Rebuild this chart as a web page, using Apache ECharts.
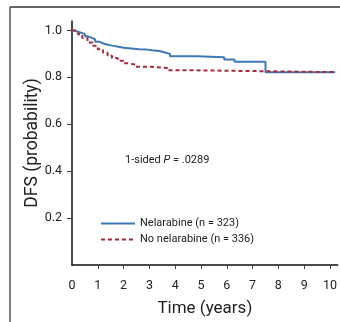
<!DOCTYPE html>
<html>
<head>
<meta charset="utf-8">
<script src="https://cdn.jsdelivr.net/npm/echarts@6/dist/echarts.min.js"></script>
<style>
  html, body { margin: 0; padding: 0; background: #fff; }
  #chart { width: 340px; height: 322px; }
</style>
</head>
<body>
<div id="chart"></div>
<script>
// Kaplan-Meier estimates: [years, DFS]
var nelarabine = [
  [0, 1.0], [0.1, 0.995], [0.2, 0.99], [0.35, 0.985], [0.5, 0.975], [0.6, 0.969],
  [0.75, 0.962], [0.9, 0.952], [1.05, 0.945], [1.2, 0.94], [1.35, 0.935], [1.55, 0.93],
  [1.8, 0.926], [2.0, 0.923], [2.3, 0.92], [2.6, 0.918], [2.9, 0.915], [3.1, 0.912],
  [3.4, 0.906], [3.6, 0.9], [3.8, 0.89], [4.85, 0.886], [5.9, 0.876], [6.3, 0.866],
  [7.5, 0.822], [10.2, 0.822]
];
var noNelarabine = [
  [0, 1.0], [0.1, 0.995], [0.23, 0.983], [0.4, 0.968], [0.6, 0.948], [0.8, 0.934],
  [1.0, 0.92], [1.2, 0.905], [1.38, 0.892], [1.55, 0.882], [1.77, 0.871], [2.0, 0.86],
  [2.15, 0.854], [2.46, 0.845], [3.07, 0.84], [3.7, 0.83], [4.6, 0.822], [10.2, 0.822]
];
var seriesNames = ['Nelarabine (n = 323)', 'No nelarabine (n = 336)'];
var xTicks = [1, 2, 3, 4, 5, 6, 7, 8, 9, 10];
var xLabels = [0, 1, 2, 3, 4, 5, 6, 7, 8, 9, 10];
var yTicks = [0.2, 0.4, 0.6, 0.8, 1.0];

var chart = echarts.init(document.getElementById('chart'));
var font = 'Roboto, "Liberation Sans", Arial, sans-serif';

var option = {
  animation: false,
  textStyle: { fontFamily: font },
  grid: { left: 72, right: 0, top: 21, bottom: 54, containLabel: false },
  xAxis: {
    type: 'value', min: 0, max: 10.3,
    name: 'Time (years)', nameLocation: 'middle', nameGap: 35,
    nameTextStyle: { fontSize: 17, color: '#222', fontFamily: font },
    axisLine: { lineStyle: { color: '#111', width: 1.5 } },
    axisTick: { customValues: xTicks, length: 4, lineStyle: { color: '#444' } },
    axisLabel: { customValues: xLabels, margin: 14, fontSize: 12.5, color: '#222' },
    splitLine: { show: false }
  },
  yAxis: {
    type: 'value', min: 0, max: 1.04,
    name: 'DFS (probability)', nameLocation: 'middle', nameGap: 30,
    nameMoveOverlap: false,
    nameTextStyle: { fontSize: 17.5, color: '#222', fontFamily: font },
    axisLine: { show: true, lineStyle: { color: '#111', width: 1.5 } },
    axisTick: { show: true, customValues: yTicks, length: 5, lineStyle: { color: '#444' } },
    axisLabel: {
      customValues: yTicks, margin: 10, fontSize: 12.5, color: '#222',
      formatter: function (v) { return v.toFixed(1); }
    },
    splitLine: { show: false }
  },
  legend: {
    orient: 'vertical', left: 95, top: 213, itemGap: 5,
    itemWidth: 34, itemHeight: 8,
    itemStyle: { opacity: 0 },
    textStyle: { fontSize: 11, color: '#222' },
    data: seriesNames
  },
  series: [
    {
      name: seriesNames[0], type: 'line', step: 'end', symbol: 'none',
      data: nelarabine, z: 3,
      lineStyle: { color: '#3d79b4', width: 2 }, itemStyle: { color: '#3d79b4' }
    },
    {
      name: seriesNames[1], type: 'line', step: 'end', symbol: 'none',
      data: noNelarabine, z: 4,
      lineStyle: { color: '#a8283c', width: 2, type: [4, 3] }, itemStyle: { color: '#a8283c' }
    }
  ],
  graphic: [
    { type: 'line', shape: { x1: 10, y1: 7, x2: 10, y2: 322 }, style: { stroke: '#808080', lineWidth: 2 } },
    { type: 'line', shape: { x1: 10, y1: 7, x2: 340, y2: 7 }, style: { stroke: '#333', lineWidth: 1.5 } },
    {
      type: 'text', left: 125, top: 155,
      style: {
        text: '1-sided {i|P} = .0289', fontSize: 11, fill: '#222', fontFamily: font,
        rich: { i: { fontStyle: 'italic', fontSize: 11, fill: '#222', fontFamily: font } }
      }
    }
  ]
};
chart.setOption(option);
</script>
</body>
</html>
